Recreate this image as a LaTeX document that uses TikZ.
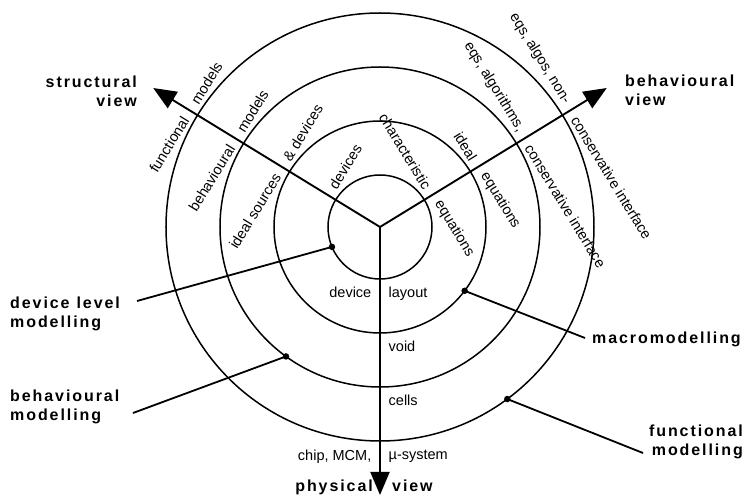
\documentclass[tikz,border=0pt]{standalone}
\usepackage{fontspec}
\setmainfont{Liberation Sans}
\newfontfamily\bigfamily[LetterSpace=12]{Liberation Sans}
\newcommand\labBig{\bigfamily\bfseries\fontsize{16}{19}\selectfont}
\newcommand\labRing{\fontsize{14.5}{16}\selectfont}
\usetikzlibrary{arrows.meta,calc}
\tikzset{
  ring/.style={line width=1.5pt},
  axisline/.style={line width=1.9pt,-{Triangle[length=23pt,width=19pt]}},
  rl/.style={font=\labRing,inner sep=1.5pt},
  big/.style={font=\labBig,inner sep=0pt},
  dotc/.style={circle,fill=black,inner sep=0pt,minimum size=6.5pt},
  lead/.style={line width=1.8pt}
}
\begin{document}
\begin{tikzpicture}[x=1pt,y=1pt]
\useasboundingbox (-380,-270) rectangle (367,227);
\fill[white] (-380,-270) rectangle (367,227);
% centre
\coordinate (O) at (0,0);
% rings
\foreach \r in {52,106,160,214} \draw[ring] (O) circle (\r);
% axes
\coordinate (st) at (148.5:266);
\coordinate (bt) at (31.5:266);
\coordinate (pt) at (0,-268);
\draw[axisline] (O) -- (st);
\draw[axisline] (O) -- (bt);
\draw[axisline] (O) -- (pt);
% structural axis labels
\node[rl,rotate=58.5,anchor=south east] (s4a) at ($(148.5:216)+(238.5:7)$) {functional};
\node[rl,rotate=58.5,anchor=south west] (s4b) at ($(148.5:216)+(58.5:7)$) {models};
\node[rl,rotate=58.5,anchor=south east] (s3a) at ($(148.5:162)+(238.5:7)$) {behavioural};
\node[rl,rotate=58.5,anchor=south west] (s3b) at ($(148.5:162)+(58.5:7)$) {models};
\node[rl,rotate=58.5,anchor=south east] (s2a) at ($(148.5:108)+(238.5:7)$) {ideal sources};
\node[rl,rotate=58.5,anchor=south west] (s2b) at ($(148.5:108)+(58.5:7)$) {\& devices};
\node[rl,rotate=58.5,anchor=south west] (s1b) at ($(148.5:54)+(58.5:7)$) {devices};
% behavioural axis labels
\node[rl,rotate=-58.5,anchor=south east] (b4a) at ($(31.5:216)+(121.5:7)$) {eqs, algos, non-};
\node[rl,rotate=-58.5,anchor=south west] (b4b) at ($(31.5:216)+(-58.5:7)$) {conservative interface};
\node[rl,rotate=-58.5,anchor=south east] (b3a) at ($(31.5:162)+(121.5:7)$) {eqs, algorithms,};
\node[rl,rotate=-58.5,anchor=south west] (b3b) at ($(31.5:162)+(-58.5:7)$) {conservative interface};
\node[rl,rotate=-58.5,anchor=south east] (b2a) at ($(31.5:108)+(121.5:7)$) {ideal};
\node[rl,rotate=-58.5,anchor=south west] (b2b) at ($(31.5:108)+(-58.5:7)$) {equations};
\node[rl,rotate=-58.5,anchor=south east] (b1a) at ($(31.5:54)+(121.5:7)$) {characteristic};
\node[rl,rotate=-58.5,anchor=south west] (b1b) at ($(31.5:54)+(-58.5:7)$) {equations};
% physical axis labels
\node[rl,anchor=north east] (p1a) at (-7,-58) {device};
\node[rl,anchor=north west] (p1b) at (7,-58) {layout};
\node[rl,anchor=north west] (p2b) at (7,-112) {void};
\node[rl,anchor=north west] (p3b) at (7,-166) {cells};
\node[rl,anchor=north east] (p4a) at (-7,-221) {chip, MCM,};
\node[rl,anchor=north west] (p4b) at (7,-221) {µ-system};
% view labels
\node[big,anchor=base east] (sv) at (-243,139) {\begin{tabular}[t]{@{}r@{}}structural\\view\end{tabular}};
\node[big,anchor=base west] (bv) at (245,140) {\begin{tabular}[t]{@{}l@{}}behavioural\\view\end{tabular}};
\node[big,anchor=base east] (pv1) at (-7,-265) {physical};
\node[big,anchor=base west] (pv2) at (12,-265) {view};
% modelling labels
\node[big,anchor=base west] (dlm) at (-370,-82) {\begin{tabular}[t]{@{}l@{}}device\hspace{7pt}level\\modelling\end{tabular}};
\node[big,anchor=base west] (bm) at (-370,-175) {\begin{tabular}[t]{@{}l@{}}behavioural\\modelling\end{tabular}};
\node[big,anchor=base west] (mm) at (212,-117) {macromodelling};
\node[big,anchor=base east] (fm) at (363,-210) {\begin{tabular}[t]{@{}r@{}}functional\\modelling\end{tabular}};
% dots and leaders
\node[dotc] (d1) at (202.5:52) {};
\node[dotc] (d2) at (234:160) {};
\node[dotc] (d3) at (-37:106) {};
\node[dotc] (d4) at (-53.5:214) {};
\coordinate (e1) at (-243,-74);
\coordinate (e2) at (-247,-186);
\coordinate (e3) at (205,-111);
\coordinate (e4) at (263,-226);
\draw[lead] (e1) -- (d1.center);
\draw[lead] (e2) -- (d2.center);
\draw[lead] (e3) -- (d3.center);
\draw[lead] (e4) -- (d4.center);
\end{tikzpicture}
\end{document}
